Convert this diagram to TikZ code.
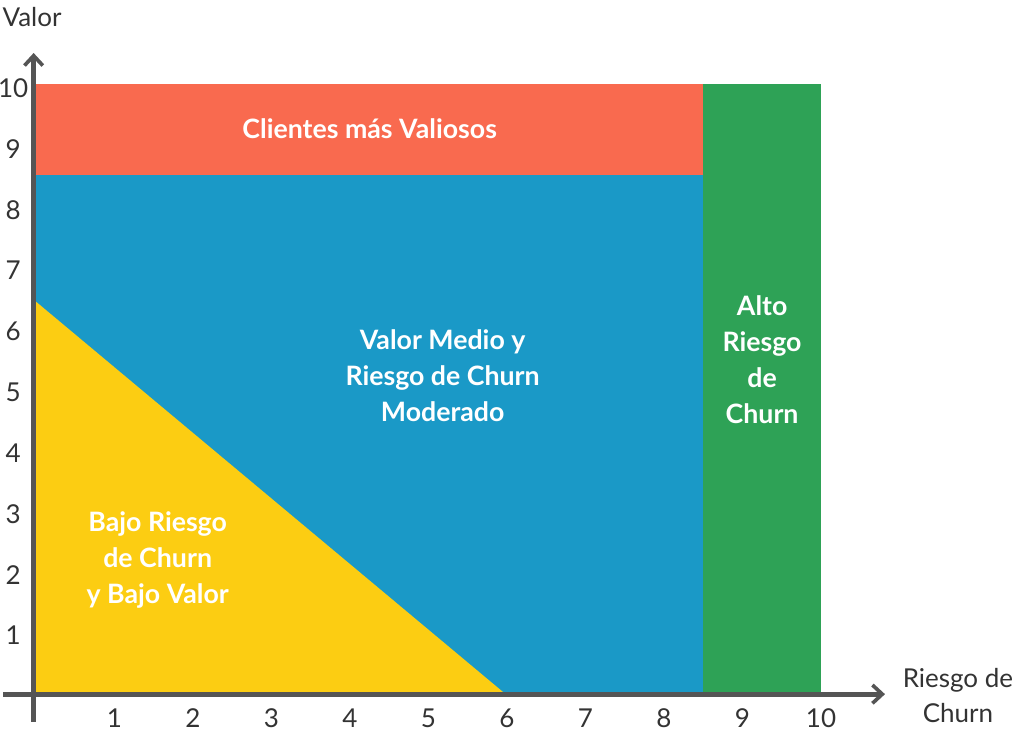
\documentclass[tikz,border=0pt]{standalone}
\usepackage{fontspec}
\setmainfont{Lato}
\usetikzlibrary{arrows.meta}
\definecolor{zonered}{HTML}{F96A4F}
\definecolor{zoneblue}{HTML}{1A99C7}
\definecolor{zoneyellow}{HTML}{FCCD12}
\definecolor{zonegreen}{HTML}{2EA256}
\definecolor{axisgray}{HTML}{555555}
\begin{document}
\begin{tikzpicture}[x=1.9625cm, y=1.52cm, >={Straight Barb[length=7pt,width=13pt,line width=2.6pt]},
    zone/.style={font=\fontsize{19}{25.6}\selectfont\bfseries, text=white, align=center},
    axislabel/.style={font=\fontsize{18.5}{25}\selectfont, text=axisgray!60!black, align=center}]
    \useasboundingbox (-0.4586,-0.6908) rectangle (12.586,11.382);
    % zones
    \fill[zoneblue] (0,0) rectangle (8.5,8.5);
    \fill[zonered] (0,8.5) rectangle (8.5,10);
    \fill[zonegreen] (8.5,0) rectangle (10,10);
    \fill[zoneyellow] (0,0) -- (0,6.42) -- (5.95,0) -- cycle;
    \node[zone] (vip) at (4.25,9.27) {Clientes más Valiosos};
    \node[zone] (medio) at (5.18,5.2) {Valor Medio y\\Riesgo de Churn\\Moderado};
    \node[zone] (bajo) at (1.55,2.17) {Bajo Riesgo\\de Churn\\y Bajo Valor};
    \node[zone] (alto) at (9.25,5.47) {Alto\\Riesgo\\de\\Churn};
    % axes
    \draw[->, line width=3.5pt, axisgray] (-0.42,-0.035) -- (10.815,-0.035);
    \draw[->, line width=3.5pt, axisgray] (-0.03,-0.49) -- (-0.03,10.51);
    \foreach \i in {1,...,10} {
        \node[axislabel] (xt\i) at (\i,-0.43) {\i};
        \node[axislabel] (yt\i) at (-0.29,\i-0.07) {\i};
    }
    \node[axislabel] (ylabel) at (-0.05,11.1) {Valor};
    \node[axislabel] (xlabel) at (11.745,-0.058) {Riesgo de\\Churn};
\end{tikzpicture}
\end{document}
